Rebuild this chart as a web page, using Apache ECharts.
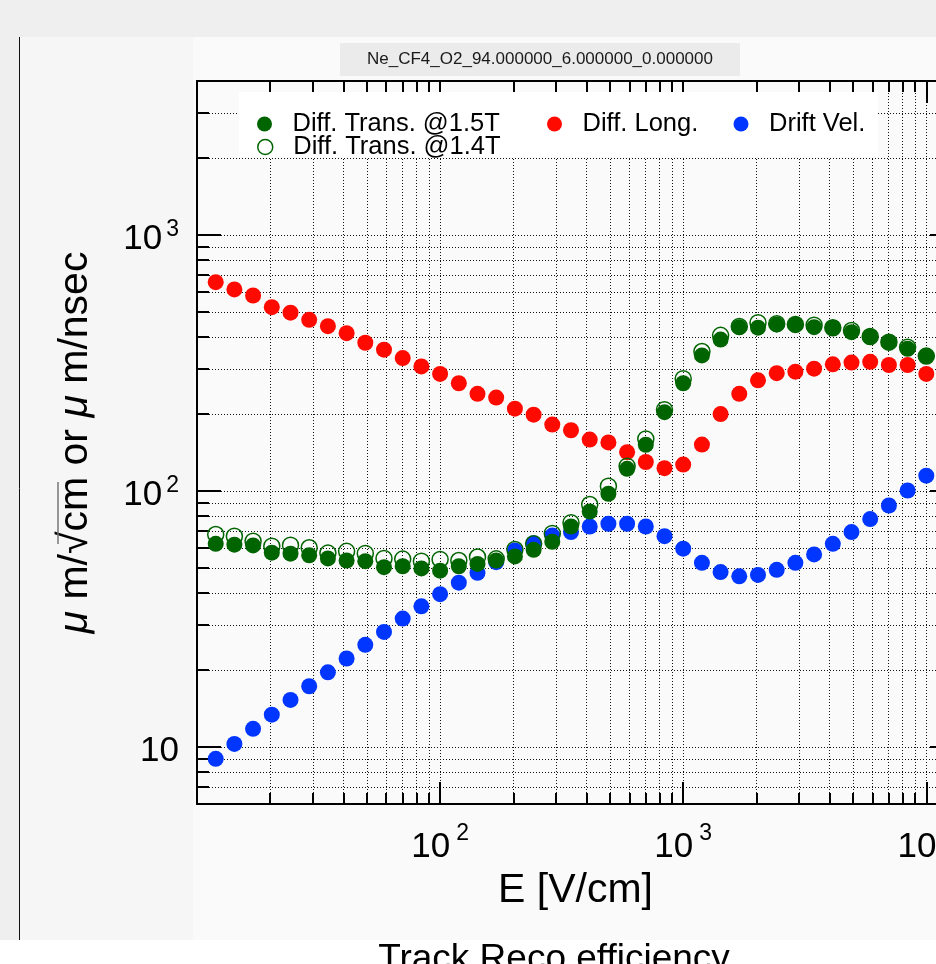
<!DOCTYPE html>
<html><head><meta charset="utf-8">
<script src="https://cdn.jsdelivr.net/npm/echarts@6/dist/echarts.min.js"></script>
<style>html,body{margin:0;padding:0;background:#fff}#c{width:936px;height:964px}</style>
</head><body><div id="c"></div>
<script>
// ---- data ----
const fieldE = [11.94, 14.25, 17.01, 20.31, 24.25, 28.94, 34.55, 41.25, 49.24, 58.78, 70.17, 83.77, 100, 119.4, 142.5, 170.1, 203.1, 242.5, 289.4, 345.5, 412.5, 492.4, 587.8, 701.7, 837.7, 1000, 1194, 1425, 1701, 2031, 2425, 2894, 3455, 4125, 4924, 5878, 7017, 8377, 10000];
const diffTrans15 = [62.3, 61.8, 61.4, 57.5, 57.0, 56.2, 54.6, 53.6, 53.3, 50.5, 50.9, 49.9, 48.9, 50.9, 52.0, 53.6, 55.6, 59.0, 63.4, 72.8, 83.3, 97.7, 122.3, 151.8, 203.5, 264, 339, 391, 437, 435, 448, 448, 437, 435, 418, 402, 382, 360, 337];
const diffTrans14 = [67.7, 66.7, 63.8, 61.0, 61.5, 60.1, 57.3, 58.2, 57.1, 54.6, 54.3, 53.3, 54.1, 53.6, 55.3, 54.4, 59.2, 62.3, 68.4, 75.3, 88.7, 104.6, 125.2, 160, 208, 275, 351, 406, 440, 455, 451, 448, 445, 435, 424, 402, 382, 365, 337];
const diffLong = [655, 614, 581, 523, 498, 467, 441, 414, 380, 357, 331, 307, 287, 264, 240, 232, 210, 199, 182, 173, 159, 155, 142, 130, 123, 127, 152, 200, 240, 271, 289, 293, 301, 313, 318, 320, 311, 311, 287];
const driftVel = [9.01, 10.3, 11.8, 13.4, 15.3, 17.3, 19.6, 22.2, 25.1, 28.2, 31.8, 35.5, 39.6, 43.9, 48.0, 52.8, 58.7, 62.6, 67.1, 69.2, 72.8, 74.6, 74.6, 72.8, 66.7, 59.6, 52.5, 48.3, 46.5, 47.1, 49.3, 52.5, 56.6, 62.3, 69.2, 77.8, 87.9, 100.6, 115];

const seriesNames = ['Diff. Trans. @1.5T', 'Diff. Trans. @1.4T', 'Diff. Long.', 'Drift Vel.'];
const xRange = [10, 13000];
const yRange = [6, 4000];
const xMajorTicks = [100, 1000, 10000];
const xMinorTicks = [20, 30, 40, 50, 60, 70, 80, 90, 200, 300, 400, 500, 600, 700, 800, 900, 2000, 3000, 4000, 5000, 6000, 7000, 8000, 9000];
const yMajorTicks = [10, 100, 1000];
const yMinorTicks = [7, 8, 9, 20, 30, 40, 50, 60, 70, 80, 90, 200, 300, 400, 500, 600, 700, 800, 900, 2000, 3000];
const titleText = 'Ne_CF4_O2_94.000000_6.000000_0.000000';
const xName = 'E [V/cm]';
const yName = '{i|\u03bc} m/\u221acm or {i|\u03bc} m/nsec';
const footerText = 'Track Reco efficiency';

// ---- styling ----
const SANS = "'Liberation Sans', Arial, Helvetica, sans-serif";
const GREEN = '#006400', RED = '#ff0a00', BLUE = '#0036ff';
const gridLine = {show: true, lineStyle: {color: '#111', width: 1, type: [1, 2]}};

function expLabel(v) {
  const e = Math.round(Math.log10(v));
  return e === 1 ? '{p|10}' : '{b|10}{s|' + e + '}';
}
const xRich = {
  p: {fontSize: 35, fontFamily: SANS, color: '#000', lineHeight: 50},
  b: {fontSize: 35, fontFamily: SANS, color: '#000', lineHeight: 50},
  s: {fontSize: 23, fontFamily: SANS, color: '#000', lineHeight: 23, verticalAlign: 'top', padding: [0, 0, 0, 6]}
};
const yRich = {
  p: {fontSize: 35, fontFamily: SANS, color: '#000', lineHeight: 42},
  b: {fontSize: 35, fontFamily: SANS, color: '#000', lineHeight: 42},
  s: {fontSize: 23, fontFamily: SANS, color: '#000', lineHeight: 23, verticalAlign: 'top', padding: [0, 0, 0, 4]}
};

function mkAxis(dim, position, ticks, len, withLine, withSplit, withLabel, range) {
  return {
    type: 'log', logBase: 10, position: position, min: range[0], max: range[1],
    axisLine: {show: withLine, onZero: false, lineStyle: {color: '#000', width: 2}},
    axisTick: {show: true, inside: true, length: len, customValues: ticks, lineStyle: {color: '#000', width: 2}},
    axisLabel: withLabel ? (dim === 'x'
      ? {show: true, customValues: ticks, margin: 18, formatter: expLabel, rich: xRich}
      : {show: true, customValues: ticks, margin: 18, padding: [8, 0, 0, 0], formatter: expLabel, rich: yRich})
      : {show: false},
    splitLine: withSplit ? gridLine : {show: false},
    minorTick: {show: false}, minorSplitLine: {show: false},
    silent: true
  };
}

const xMain = mkAxis('x', 'bottom', xMajorTicks, 22, true, true, true, xRange);
xMain.name = xName; xMain.nameLocation = 'middle'; xMain.nameGap = 66;
xMain.nameTextStyle = {fontSize: 41, fontFamily: SANS, color: '#000'};
const yMain = mkAxis('y', 'left', yMajorTicks, 24, true, true, true, yRange);
yMain.name = yName; yMain.nameLocation = 'middle'; yMain.nameRotate = 90; yMain.nameGap = 101;
yMain.nameTextStyle = {fontSize: 41, fontFamily: SANS, color: '#000',
  rich: {i: {fontSize: 41, fontFamily: SANS, fontStyle: 'italic', color: '#000'}}};

const legendBase = {
  orient: 'horizontal', padding: 0, itemWidth: 46, itemHeight: 15, icon: 'circle',
  selectedMode: false, itemGap: 0, z: 6,
  textStyle: {fontSize: 25.5, fontFamily: SANS, color: '#000', lineHeight: 25, padding: 0}
};

function pts(arr) { return fieldE.map((e, i) => [e, arr[i]]); }
function sc(name, arr, itemStyle) {
  return {name: name, type: 'scatter', xAxisIndex: 0, yAxisIndex: 0, data: pts(arr),
    symbol: 'circle', symbolSize: 16, itemStyle: Object.assign({opacity: 1}, itemStyle),
    emphasis: {disabled: true}, silent: true};
}

const chart = echarts.init(document.getElementById('c'), null, {renderer: 'canvas'});
chart.setOption({
  animation: false,
  backgroundColor: '#efefef',
  title: {text: titleText, left: 340, top: 43, backgroundColor: '#ebebeb', padding: [8, 27],
    textStyle: {fontSize: 17, fontWeight: 'normal', color: '#1a1a1a', fontFamily: SANS, lineHeight: 17}},
  legend: [
    Object.assign({}, legendBase, {left: 257, top: 111, data: [{name: seriesNames[0], itemStyle: {color: GREEN, opacity: 1}}]}),
    Object.assign({}, legendBase, {left: 257, top: 134, data: [{name: seriesNames[1],
      itemStyle: {color: 'rgba(0,0,0,0)', borderColor: GREEN, borderWidth: 1.5, opacity: 1}}]}),
    Object.assign({}, legendBase, {left: 547, top: 111, data: [{name: seriesNames[2], itemStyle: {color: RED, opacity: 1}}]}),
    Object.assign({}, legendBase, {left: 733.5, top: 111, data: [{name: seriesNames[3], itemStyle: {color: BLUE, opacity: 1}}]})
  ],
  grid: {left: 197, right: -18, top: 81, bottom: 160, containLabel: false, outerBoundsMode: 'none'},
  xAxis: [
    xMain,
    mkAxis('x', 'bottom', xMinorTicks, 11, false, true, false, xRange),
    mkAxis('x', 'top', xMajorTicks, 22, true, false, false, xRange),
    mkAxis('x', 'top', xMinorTicks, 11, false, false, false, xRange)
  ],
  yAxis: [
    yMain,
    mkAxis('y', 'left', yMinorTicks, 12, false, true, false, yRange),
    mkAxis('y', 'right', yMajorTicks, 24, true, false, false, yRange),
    mkAxis('y', 'right', yMinorTicks, 12, false, false, false, yRange)
  ],
  series: [
    sc(seriesNames[3], driftVel, {color: BLUE}),
    sc(seriesNames[2], diffLong, {color: RED}),
    sc(seriesNames[1], diffTrans14, {color: 'rgba(0,0,0,0)', borderColor: GREEN, borderWidth: 1.5}),
    sc(seriesNames[0], diffTrans15, {color: GREEN})
  ],
  graphic: [
    {type: 'rect', z: -10, shape: {x: 19, y: 37, width: 917, height: 903}, style: {fill: '#f6f6f6'}},
    {type: 'rect', z: -9, shape: {x: 193, y: 37, width: 743, height: 903}, style: {fill: '#fafafa'}},
    {type: 'line', z: -8, shape: {x1: 19.5, y1: 37, x2: 19.5, y2: 940}, style: {stroke: '#111', lineWidth: 1}},
    {type: 'rect', z: -8, shape: {x: 0, y: 940, width: 936, height: 24}, style: {fill: '#ffffff'}},
    {type: 'text', z: -7, x: 554, y: 941, style: {text: footerText, font: '37px ' + SANS, fill: '#000',
      textAlign: 'center', textVerticalAlign: 'top'}},
    {type: 'rect', z: 3, shape: {x: 239, y: 92, width: 639, height: 65}, style: {fill: '#ffffff'}},
    {type: 'line', z: 5, shape: {x1: 58, y1: 482, x2: 58, y2: 544}, style: {stroke: '#777', lineWidth: 1.5}}
  ]
});
</script></body></html>
